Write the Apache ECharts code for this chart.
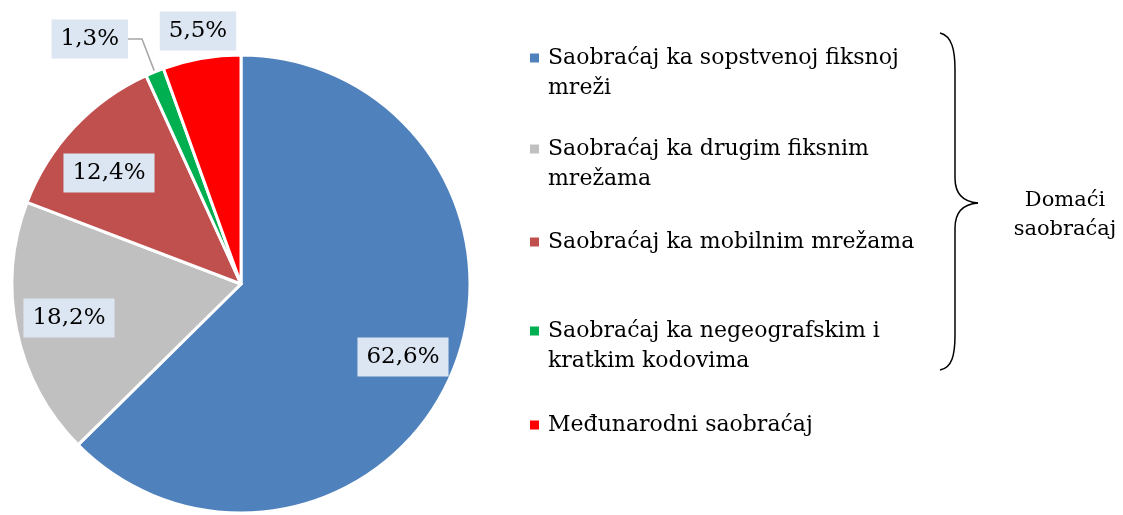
<!DOCTYPE html>
<html>
<head>
<meta charset="utf-8">
<script src="https://cdn.jsdelivr.net/npm/echarts@6/dist/echarts.min.js"></script>
<style>
  html, body { margin: 0; padding: 0; background: #fff; }
  #chart { width: 1123px; height: 515px; }
</style>
</head>
<body>
<div id="chart"></div>
<script>
// podaci
const categories = [
  'Saobraćaj ka sopstvenoj fiksnoj\nmreži',
  'Saobraćaj ka drugim fiksnim\nmrežama',
  'Saobraćaj ka mobilnim mrežama',
  'Saobraćaj ka negeografskim i\nkratkim kodovima',
  'Međunarodni saobraćaj'
]
const shares = [62.6, 18.2, 12.4, 1.3, 5.5]
const colors = ['#4f81bd', '#c0c0c0', '#c0504d', '#00b050', '#ff0000']

// položaj natpisa i legende
const labelPos = [[403, 357], [69, 318], [109, 173], [128, 39], [198, 31]]
const legendMarkY = [58, 149, 242, 331, 425]

const FONT = 'DejaVu Serif'
const chart = echarts.init(document.getElementById('chart'))

// marker legende poravnat s prvim redom teksta (prazan red iznad)
const legends = categories.map((name, i) => {
  const twoLines = name.indexOf('\n') >= 0
  return {
    data: [name],
    left: 530,
    top: twoLines ? legendMarkY[i] - 45 : legendMarkY[i] - 15,
    padding: 0,
    orient: 'vertical',
    icon: 'rect',
    itemWidth: 9,
    itemHeight: 9,
    itemGap: 0,
    itemStyle: { borderWidth: 0 },
    selectedMode: false,
    formatter: n => (twoLines ? '\u00a0\n' : '') + n,
    textStyle: {
      fontFamily: FONT,
      fontSize: 22,
      color: '#000',
      lineHeight: 30,
      padding: [0, 0, 0, 4]
    }
  }
})

// vitičasta zagrada
const braceStyle = { stroke: '#000', lineWidth: 1.5, fill: null }
const curve = (x1, y1, cx1, cy1, cx2, cy2, x2, y2) => ({
  type: 'bezierCurve',
  shape: { x1, y1, cpx1: cx1, cpy1: cy1, cpx2: cx2, cpy2: cy2, x2, y2 },
  style: braceStyle
})
const seg = (x1, y1, x2, y2) => ({
  type: 'line',
  shape: { x1, y1, x2, y2 },
  style: braceStyle
})

const options = {
  animation: false,
  color: colors,
  legend: legends,
  series: [
    {
      type: 'pie',
      center: [241, 284],
      radius: 229,
      startAngle: 90,
      clockwise: true,
      itemStyle: {
        borderColor: '#fff',
        borderWidth: 3
      },
      label: {
        show: true,
        position: 'inside',
        formatter: p => p.value.toFixed(1).replace('.', ',') + '%',
        fontFamily: FONT,
        fontSize: 23,
        color: '#000',
        backgroundColor: '#dce6f2',
        padding: [8, 9, 8, 9]
      },
      labelLine: { show: false },
      labelLayout: p => ({ x: labelPos[p.dataIndex][0], y: labelPos[p.dataIndex][1] }),
      data: categories.map((name, i) => {
        const item = { name: name, value: shares[i] }
        if (i === 3) {
          item.label = { position: 'outside' }
          item.labelLine = {
            show: true,
            length: 10,
            length2: 14,
            lineStyle: { color: '#a6a6a6', width: 1.5 }
          }
        }
        return item
      })
    }
  ],
  graphic: [
    curve(940, 33, 952, 36, 955, 50, 955, 70),
    seg(955, 70, 955, 178),
    curve(955, 178, 955, 195, 965, 202, 978, 203),
    curve(978, 203, 965, 204, 955, 211, 955, 228),
    seg(955, 228, 955, 335),
    curve(955, 335, 955, 355, 952, 368, 940, 370),
    {
      type: 'text',
      x: 1065,
      y: 186,
      style: {
        text: 'Domaći\nsaobraćaj',
        fontFamily: FONT,
        fontSize: 21,
        lineHeight: 29,
        align: 'center',
        fill: '#000'
      }
    }
  ]
}

chart.setOption(options)
</script>
</body>
</html>
